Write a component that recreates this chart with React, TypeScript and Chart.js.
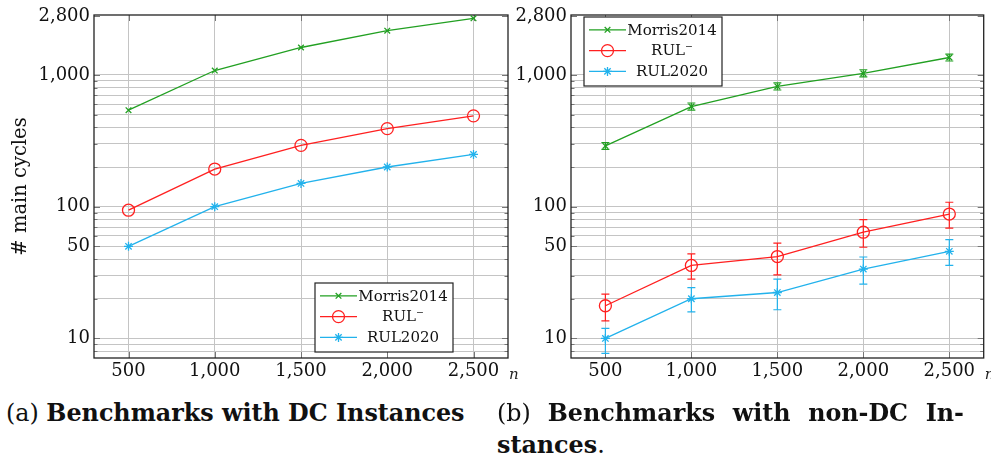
import React, { useEffect, useRef } from "react";
import { Chart, registerables } from "chart.js";
import { drawPoint } from "chart.js/helpers";

Chart.register(...registerables);

// ---------- data ----------
const nValues = [500, 1000, 1500, 2000, 2500];
const xTicks = [500, 1000, 1500, 2000, 2500];
const yLabelTicks = [10, 50, 100, 1000, 2800];
const yGridTicks = [8, 9, 10, 20, 30, 40, 50, 60, 70, 80, 90, 100, 200, 300, 400, 500, 600, 700, 800, 900, 1000, 2800];
const seriesNames = ["Morris2014", "RUL\u207B", "RUL2020"];

// (a) DC instances
const dcMorris = [540, 1080, 1615, 2165, 2690];
const dcRulMinus = [94, 193, 292, 391, 489];
const dcRul2020 = [50, 100, 150, 200, 249];

// (b) non-DC instances (mean, lower, upper)
const ndcMorris = [289, 575, 818, 1028, 1356];
const ndcMorrisLow = [272, 540, 768, 965, 1275];
const ndcMorrisHigh = [307, 612, 870, 1095, 1440];
const ndcRulMinus = [17.7, 35.8, 41.8, 64, 87.9];
const ndcRulMinusLow = [13.6, 28.2, 30.4, 49.2, 68.7];
const ndcRulMinusHigh = [21.7, 43.8, 52.8, 79.6, 108];
const ndcRul2020 = [10, 20, 22.3, 33.6, 45.8];
const ndcRul2020Low = [7.7, 15.9, 16.5, 25.8, 35.8];
const ndcRul2020High = [11.9, 24.3, 28.2, 41.5, 56.3];

const GREEN = "#22a022";
const RED = "#ff2020";
const CYAN = "#22b2ec";
const FONT = "'DejaVu Serif', serif";

const fmt = (v: number) => v.toLocaleString("en-US");

function series(label: string, ys: number[], color: string, style: string, radius: number, low?: number[], high?: number[]) {
  return {
    label,
    data: nValues.map((x, i) => ({ x, y: ys[i] })),
    borderColor: color,
    backgroundColor: color,
    pointStyle: style,
    pointRadius: radius,
    pointBorderWidth: 1.3,
    pointBorderColor: color,
    pointBackgroundColor: style === "circle" ? "rgba(0,0,0,0)" : color,
    borderWidth: 1.3,
    tension: 0,
    errLow: low,
    errHigh: high,
  } as any;
}

const frameTicksPlugin = {
  id: "frameTicks",
  beforeDatasetsDraw(chart: any) {
    const { ctx, chartArea: a, scales } = chart;
    ctx.save();
    ctx.strokeStyle = "#777";
    ctx.lineWidth = 1;
    ctx.beginPath();
    scales.y.ticks.forEach((t: any) => {
      const py = Math.round(scales.y.getPixelForValue(t.value)) + 0.5;
      const len = yLabelTicks.includes(t.value) ? 6 : 3.5;
      ctx.moveTo(a.left, py); ctx.lineTo(a.left + len, py);
      ctx.moveTo(a.right, py); ctx.lineTo(a.right - len, py);
    });
    scales.x.ticks.forEach((t: any) => {
      const px = Math.round(scales.x.getPixelForValue(t.value)) + 0.5;
      ctx.moveTo(px, a.bottom); ctx.lineTo(px, a.bottom - 6);
      ctx.moveTo(px, a.top); ctx.lineTo(px, a.top + 6);
    });
    ctx.stroke();
    ctx.strokeStyle = "#222";
    ctx.lineWidth = 1.3;
    ctx.strokeRect(a.left, a.top, a.right - a.left, a.bottom - a.top);
    // axis label "n"
    ctx.fillStyle = "#222";
    ctx.font = `italic 15px ${FONT}`;
    ctx.textAlign = "left";
    ctx.textBaseline = "middle";
    ctx.fillText("n", a.right + 1, a.bottom + 17);
    ctx.restore();
  },
};

const errorBarPlugin = {
  id: "errorBars",
  afterDatasetsDraw(chart: any) {
    const { ctx, scales } = chart;
    chart.data.datasets.forEach((ds: any) => {
      if (!ds.errLow) return;
      ctx.save();
      ctx.strokeStyle = ds.borderColor;
      ctx.lineWidth = 1.2;
      ctx.beginPath();
      ds.data.forEach((pt: any, j: number) => {
        const px = scales.x.getPixelForValue(pt.x);
        const yl = scales.y.getPixelForValue(ds.errLow[j]);
        const yh = scales.y.getPixelForValue(ds.errHigh[j]);
        ctx.moveTo(px, yl); ctx.lineTo(px, yh);
        ctx.moveTo(px - 4, yl); ctx.lineTo(px + 4, yl);
        ctx.moveTo(px - 4, yh); ctx.lineTo(px + 4, yh);
      });
      ctx.stroke();
      ctx.restore();
    });
  },
};

const boxLegendPlugin = {
  id: "boxLegend",
  afterDraw(chart: any, _args: any, opts: any) {
    const { ctx, chartArea: a } = chart;
    const w = 138, h = 69;
    const left = a.left + opts.dx;
    const top = opts.anchor === "bottom" ? a.bottom - opts.dy - h : a.top + opts.dy;
    ctx.save();
    ctx.fillStyle = "#fff";
    ctx.fillRect(left, top, w, h);
    ctx.strokeStyle = "#222";
    ctx.lineWidth = 1.2;
    ctx.strokeRect(left, top, w, h);
    chart.data.datasets.forEach((ds: any, i: number) => {
      const ry = top + 12.8 + i * 20.8;
      ctx.strokeStyle = ds.borderColor;
      ctx.lineWidth = 1.3;
      ctx.beginPath();
      ctx.moveTo(left + 5, ry); ctx.lineTo(left + 42, ry);
      ctx.stroke();
      ctx.fillStyle = ds.pointBackgroundColor;
      drawPoint(ctx, { pointStyle: ds.pointStyle, radius: ds.pointRadius, borderWidth: 1.3, rotation: 0 } as any, left + 23.5, ry);
      ctx.fillStyle = "#111";
      ctx.font = `15px ${FONT}`;
      ctx.textAlign = "center";
      ctx.textBaseline = "middle";
      ctx.fillText(ds.label, left + 88, ry + 1);
    });
    ctx.restore();
  },
};

function makeConfig(datasets: any[], yWidth: number, padRight: number, showTitle: boolean, legend: any) {
  return {
    type: "line",
    data: { datasets },
    plugins: [frameTicksPlugin, errorBarPlugin, boxLegendPlugin],
    options: {
      animation: false,
      responsive: false,
      devicePixelRatio: 1,
      layout: { padding: { left: 0, right: padRight, top: 15, bottom: 0 } },
      plugins: { legend: { display: false }, tooltip: { enabled: false }, boxLegend: legend },
      scales: {
        x: {
          type: "linear",
          min: 300,
          max: 2700,
          afterBuildTicks: (s: any) => { s.ticks = xTicks.map((v) => ({ value: v })); },
          afterFit: (s: any) => { s.height = 27; s.paddingLeft = 0; s.paddingRight = 0; },
          ticks: { font: { family: FONT, size: 18 }, color: "#111", padding: 3, maxRotation: 0, callback: (v: any) => fmt(Number(v)) },
          grid: { color: "#c4c4c4", lineWidth: 1, drawTicks: false },
          border: { display: false },
        },
        y: {
          type: "logarithmic",
          min: 7.1,
          max: 2850,
          afterBuildTicks: (s: any) => { s.ticks = yGridTicks.map((v) => ({ value: v })); },
          afterFit: (s: any) => { s.width = yWidth; s.paddingTop = 0; s.paddingBottom = 0; },
          ticks: {
            font: { family: FONT, size: 18 },
            color: "#111",
            padding: 4,
            autoSkip: false,
            callback: (v: any) => (yLabelTicks.includes(Number(v)) ? fmt(Number(v)) : ""),
          },
          grid: {
            color: (c: any) => (c.tick && c.tick.value === 2800 ? "rgba(0,0,0,0)" : "#c4c4c4"),
            lineWidth: 1,
            drawTicks: false,
          },
          border: { display: false },
          title: { display: showTitle, text: "# main cycles", font: { family: FONT, size: 19.5 }, color: "#111", padding: { top: 9, bottom: 0 } },
        },
      },
    },
  } as any;
}

function ChartCanvas({ config, style, width, height }: any) {
  const ref = useRef<HTMLCanvasElement>(null);
  useEffect(() => {
    const chart = new Chart(ref.current as HTMLCanvasElement, config);
    return () => chart.destroy();
  }, []);
  return <canvas ref={ref} width={width} height={height} style={{ position: "absolute", width, height, ...style }} />;
}

export default function App() {
  const dcSets = [
    series(seriesNames[0], dcMorris, GREEN, "crossRot", 4),
    series(seriesNames[1], dcRulMinus, RED, "circle", 6),
    series(seriesNames[2], dcRul2020, CYAN, "star", 4.5),
  ];
  const ndcSets = [
    series(seriesNames[0], ndcMorris, GREEN, "crossRot", 4, ndcMorrisLow, ndcMorrisHigh),
    series(seriesNames[1], ndcRulMinus, RED, "circle", 6, ndcRulMinusLow, ndcRulMinusHigh),
    series(seriesNames[2], ndcRul2020, CYAN, "star", 4.5, ndcRul2020Low, ndcRul2020High),
  ];
  const capFont: React.CSSProperties = { fontFamily: FONT, fontSize: 23.8, lineHeight: "29px", color: "#111", position: "absolute", whiteSpace: "nowrap" };
  return (
    <div style={{ position: "absolute", left: 0, top: 0, width: 991, height: 460, background: "#fff", overflow: "hidden" }}>
      <ChartCanvas config={makeConfig(dcSets, 94, 12, true, { anchor: "bottom", dx: 221, dy: 6 })} width={520} height={385} style={{ left: 0, top: 0 }} />
      <ChartCanvas config={makeConfig(ndcSets, 71, 6, false, { anchor: "top", dx: 13, dy: 2 })} width={491} height={385} style={{ left: 500, top: 0 }} />
      <div style={{ ...capFont, left: 6, top: 399 }}>
        (a) <b>Benchmarks with DC Instances</b>
      </div>
      <div style={{ ...capFont, left: 497, top: 399, width: 467, textAlign: "justify", textAlignLast: "justify" as any }}>
        (b) <b>Benchmarks with non-DC In-</b>
      </div>
      <div style={{ ...capFont, left: 497, top: 431 }}>
        <b>stances</b>.
      </div>
    </div>
  );
}
